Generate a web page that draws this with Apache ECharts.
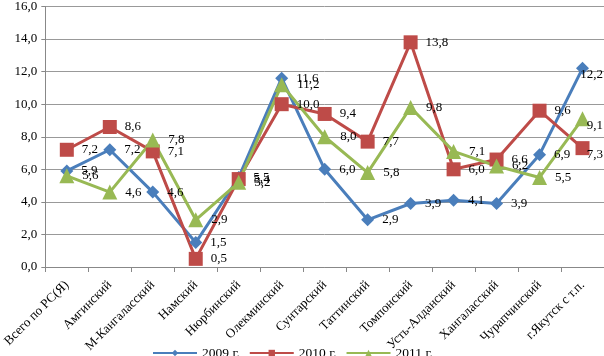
<!DOCTYPE html>
<html>
<head>
<meta charset="utf-8">
<script src="https://cdn.jsdelivr.net/npm/echarts@6/dist/echarts.min.js"></script>
<style>
html,body{margin:0;padding:0;background:#fff;}
#main{width:604px;height:356px;}
</style>
</head>
<body>
<div id="main"></div>
<script>
// районы
var districts = ['Всего по РС(Я)', 'Амгинский', 'М-Кангаласский', 'Намский', 'Нюрбинский', 'Олекминский',
    'Сунтарский', 'Таттинский', 'Томпонский', 'Усть-Алданский', 'Хангаласский', 'Чурапчинский', 'г.Якутск с т.п.'];
// значения по годам
var y2009 = [5.9, 7.2, 4.6, 1.5, 5.5, 11.6, 6.0, 2.9, 3.9, 4.1, 3.9, 6.9, 12.2];
var y2010 = [7.2, 8.6, 7.1, 0.5, 5.4, 10.0, 9.4, 7.7, 13.8, 6.0, 6.6, 9.6, 7.3];
var y2011 = [5.6, 4.6, 7.8, 2.9, 5.2, 11.2, 8.0, 5.8, 9.8, 7.1, 6.2, 5.5, 9.1];
var seriesNames = ['2009 г.', '2010 г.', '2011 г.'];

var serif = '"Liberation Serif", "DejaVu Serif", serif';
function fmt(v){ return v.toFixed(1).replace('.', ','); }

var myChart = echarts.init(document.getElementById('main'));

function mkSeries(name, data, color, symbol, size){
    return {
        name: name,
        type: 'line',
        data: data,
        symbol: symbol,
        symbolSize: size,
        lineStyle: {width: 3, color: color},
        itemStyle: {color: color},
        label: {
            show: true,
            position: 'right',
            distance: 8,
            fontFamily: serif,
            fontSize: 13,
            color: '#000',
            formatter: function(p){ return fmt(p.value); }
        },
        // подписи не вылезают за правый край
        labelLayout: function(p){
            var r = p.labelRect;
            if (r.x + r.width > 603) {
                return {x: 603 - r.width, align: 'left'};
            }
        },
        emphasis: {disabled: true}
    };
}

var option = {
    animation: false,
    grid: {left: 41, right: 0, top: 5, bottom: 89},
    legend: {
        left: 147,
        top: 341,
        itemWidth: 44,
        itemHeight: 8,
        itemGap: 9,
        textStyle: {fontFamily: serif, fontSize: 13.5, color: '#000'},
        data: seriesNames
    },
    xAxis: {
        type: 'category',
        data: districts,
        boundaryGap: true,
        axisLine: {lineStyle: {color: '#888', width: 1}},
        axisTick: {show: true, length: 5, lineStyle: {color: '#888'}},
        axisLabel: {rotate: 45, fontFamily: serif, fontSize: 13, color: '#000', margin: 16, interval: 0}
    },
    yAxis: {
        type: 'value',
        min: 0,
        max: 16,
        interval: 2,
        axisLine: {show: true, lineStyle: {color: '#888', width: 1}},
        axisTick: {show: true, length: 4, lineStyle: {color: '#888'}},
        splitLine: {lineStyle: {color: '#999', width: 1}},
        axisLabel: {fontFamily: serif, fontSize: 13, color: '#000', margin: 8,
            formatter: function(v){ return fmt(v); }}
    },
    series: [
        mkSeries(seriesNames[0], y2009, '#4A7EBB', 'diamond', 13),
        mkSeries(seriesNames[1], y2010, '#BE4B48', 'rect', 14),
        mkSeries(seriesNames[2], y2011, '#98B954', 'triangle', 15)
    ]
};

myChart.setOption(option);
</script>
</body>
</html>
